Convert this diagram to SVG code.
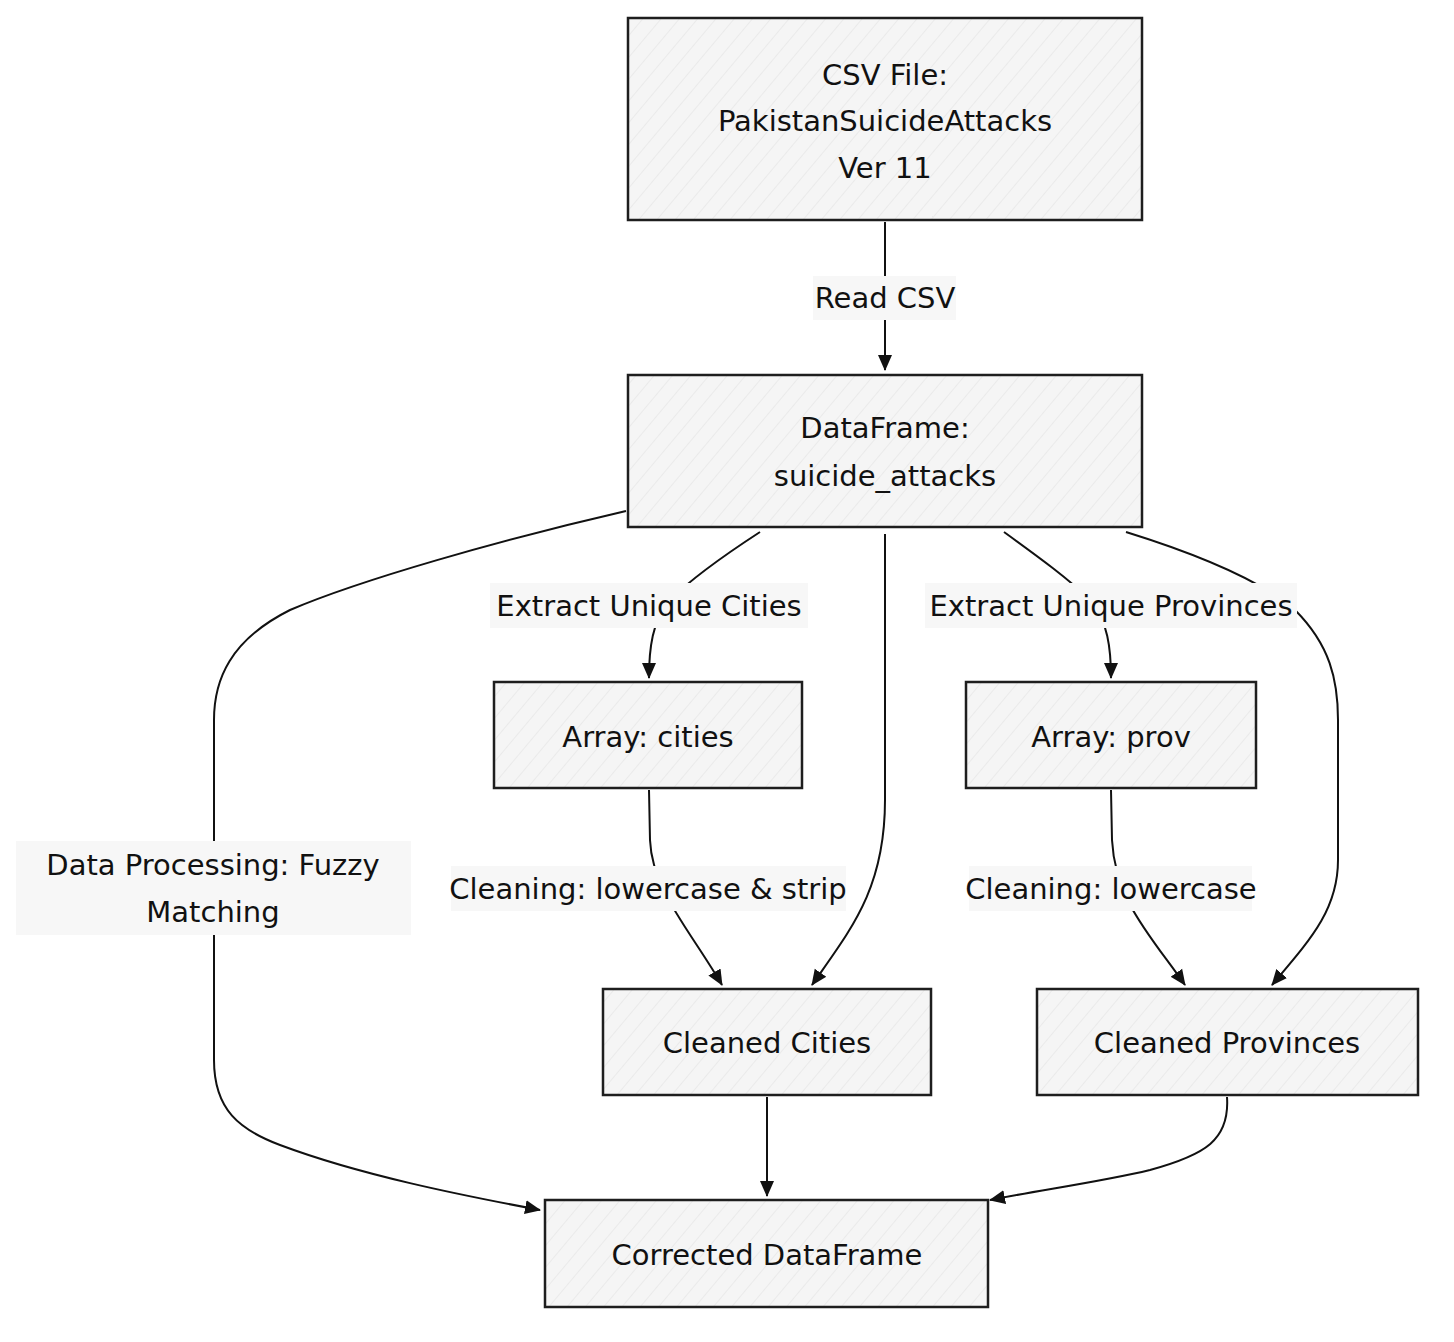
<svg xmlns="http://www.w3.org/2000/svg" width="1454" height="1342" viewBox="0 0 1454 1342">
<style>
.node rect{fill:url(#hatch);stroke:#1e1e1e;stroke-width:2.5}
text{font-family:"DejaVu Sans","Liberation Sans",Arial,sans-serif;font-size:29px;fill:#111;text-anchor:middle;dominant-baseline:central}
.edge{fill:none;stroke:#111;stroke-width:2;marker-end:url(#arr2)}
.lbl rect{fill:#f7f7f7}
</style>
<defs>
<pattern id="hatch" patternUnits="userSpaceOnUse" width="14" height="14" patternTransform="rotate(40)">
<rect width="14" height="14" fill="#f5f5f5"/>
<line x1="0" y1="0" x2="0" y2="14" stroke="#e4e4e4" stroke-width="1.2"/>
</pattern>
<marker id="arr2" viewBox="0 0 16 16" refX="15" refY="8" markerWidth="16" markerHeight="16" markerUnits="userSpaceOnUse" orient="auto">
<path d="M0,1 L16,8 L0,15 z" fill="#111"/>
</marker>
</defs>
<rect width="1454" height="1342" fill="#fff"/>
<g id="connectors">
<path class="edge" d="M885,222 L885,370"/>
<path class="edge" d="M760,532 C720,558 690,580 670,600 C652,620 649,650 649,678"/>
<path class="edge" d="M885,534 L885,800 C885,890 850,930 812,985"/>
<path class="edge" d="M1004,532 C1040,558 1070,580 1090,600 C1108,620 1111,650 1111,678"/>
<path class="edge" d="M1126,532 C1200,555 1260,580 1295,610 C1330,645 1338,680 1338,720 L1338,860 C1338,910 1310,940 1272,985"/>
<path class="edge" d="M626,511 C500,540 360,580 290,610 C230,640 214,680 214,720 L214,1060 C214,1110 240,1130 280,1145 C360,1175 460,1195 540,1210"/>
<path class="edge" d="M649,790 L650,840 C652,890 690,930 722,985"/>
<path class="edge" d="M1111,790 L1112,840 C1115,900 1150,935 1185,985"/>
<path class="edge" d="M767,1097 L767,1196"/>
<path class="edge" d="M1227,1097 C1230,1140 1205,1155 1150,1170 C1100,1182 1040,1190 990,1200"/>
</g>
<g id="edge-labels">
<g class="lbl"><rect x="813" y="276" width="143" height="44"/><text x="885" y="298">Read CSV</text></g>
<g class="lbl"><rect x="490" y="583" width="318" height="45"/><text x="649" y="606">Extract Unique Cities</text></g>
<g class="lbl"><rect x="925" y="583" width="372" height="45"/><text x="1111" y="606">Extract Unique Provinces</text></g>
<g class="lbl"><rect x="451" y="866" width="395" height="45"/><text x="648" y="889">Cleaning: lowercase &amp; strip</text></g>
<g class="lbl"><rect x="969" y="866" width="283" height="45"/><text x="1111" y="889">Cleaning: lowercase</text></g>
<g class="lbl"><rect x="16" y="841" width="395" height="94"/><text x="213" y="865">Data Processing: Fuzzy</text><text x="213" y="912">Matching</text></g>
</g>
<g id="node-csv" class="node"><rect x="628" y="18" width="514" height="202"/><text x="885" y="75">CSV File:</text><text x="885" y="121">PakistanSuicideAttacks</text><text x="885" y="168">Ver 11</text></g>
<g id="node-df" class="node"><rect x="628" y="375" width="514" height="152"/><text x="885" y="428">DataFrame:</text><text x="885" y="476">suicide_attacks</text></g>
<g id="node-cities" class="node"><rect x="494" y="682" width="308" height="106"/><text x="648" y="737">Array: cities</text></g>
<g id="node-prov" class="node"><rect x="966" y="682" width="290" height="106"/><text x="1111" y="737">Array: prov</text></g>
<g id="node-cleancities" class="node"><rect x="603" y="989" width="328" height="106"/><text x="767" y="1043">Cleaned Cities</text></g>
<g id="node-cleanprov" class="node"><rect x="1037" y="989" width="381" height="106"/><text x="1227" y="1043">Cleaned Provinces</text></g>
<g id="node-corrected" class="node"><rect x="545" y="1200" width="443" height="107"/><text x="767" y="1255">Corrected DataFrame</text></g>
</svg>
